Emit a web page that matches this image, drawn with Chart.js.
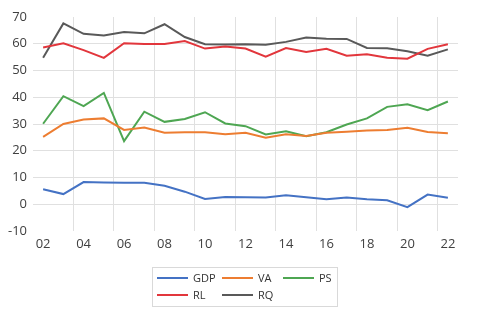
<!DOCTYPE html>
<html>
<head>
<meta charset="utf-8">
<script src="https://cdn.jsdelivr.net/npm/chart.js@4"></script>
<style>
    html, body { margin: 0; padding: 0; background: #fff; }
    #wrap { width: 480px; height: 314px; position: relative; }
</style>
</head>
<body>
<div id="wrap"><canvas id="myChart"></canvas></div>
<script>
const years = ['02', '03', '04', '05', '06', '07', '08', '09', '10', '11', '12',
    '13', '14', '15', '16', '17', '18', '19', '20', '21', '22'];
const gdp = [5.6, 3.8, 8.3, 8.1, 8.0, 8.0, 6.9, 4.7, 2.0, 2.7, 2.6,
    2.5, 3.4, 2.6, 1.9, 2.5, 1.9, 1.5, -1.1, 3.6, 2.4];
const va = [25.2, 30.0, 31.7, 32.1, 27.8, 28.7, 26.7, 26.9, 26.9, 26.2, 26.7,
    24.9, 26.2, 25.5, 26.7, 27.1, 27.6, 27.8, 28.6, 27.0, 26.5];
const ps = [30.1, 40.4, 36.7, 41.6, 23.6, 34.6, 30.8, 31.9, 34.4, 30.2, 29.2,
    26.1, 27.3, 25.4, 26.9, 29.8, 32.1, 36.4, 37.4, 35.2, 38.4];
const rl = [58.6, 60.2, 57.6, 54.7, 60.2, 59.9, 59.9, 61.0, 58.2, 59.0, 58.2,
    55.2, 58.4, 56.9, 58.1, 55.5, 56.1, 54.8, 54.4, 58.1, 59.8];
const rq = [54.8, 67.6, 63.7, 63.1, 64.4, 63.9, 67.3, 62.5, 59.8, 59.7, 59.8,
    59.6, 60.7, 62.3, 61.9, 61.8, 58.4, 58.3, 57.2, 55.5, 57.9];
const seriesNames = ['GDP', 'VA', 'PS', 'RL', 'RQ'];
const yMin = -10, yMax = 70, yStep = 10;

const colors = ['#4472C4', '#ED7D31', '#4EA652', '#E2363C', '#595959'];
const fontFamily = "'Open Sans', sans-serif";

// legend drawn by hand: 3 columns, box round it
const boxLegend = {
    id: 'boxLegend',
    afterDraw(chart) {
        const ctx = chart.ctx;
        ctx.save();
        ctx.strokeStyle = '#d9d9d9';
        ctx.lineWidth = 1;
        ctx.strokeRect(152.5, 267.5, 185, 39);
        const cols = [157, 222, 283];
        const rows = [278, 295];
        ctx.font = "11px " + fontFamily;
        ctx.textBaseline = 'middle';
        chart.data.datasets.forEach((ds, i) => {
            const x = cols[i % 3];
            const y = rows[Math.floor(i / 3)];
            ctx.strokeStyle = ds.borderColor;
            ctx.lineWidth = 2;
            ctx.beginPath();
            ctx.moveTo(x, y);
            ctx.lineTo(x + 31, y);
            ctx.stroke();
            ctx.fillStyle = '#333333';
            ctx.fillText(ds.label, x + 36, y + 0.5);
        });
        ctx.restore();
    }
};

const seriesData = [gdp, va, ps, rl, rq];
new Chart(document.getElementById('myChart'), {
    type: 'line',
    data: {
        labels: years,
        datasets: seriesData.map((d, i) => ({
            label: seriesNames[i],
            data: d,
            borderColor: colors[i],
            backgroundColor: colors[i],
            borderWidth: 2,
            pointRadius: 0,
            tension: 0
        }))
    },
    options: {
        responsive: true,
        maintainAspectRatio: false,
        animation: false,
        layout: { padding: { left: 0, right: 22, top: 17, bottom: 0 } },
        scales: {
            x: {
                type: 'category',
                offset: true,
                border: { display: false },
                grid: {
                    offset: true,
                    drawTicks: false,
                    lineWidth: 1,
                    color: c => (c.index !== undefined && c.index > 0 && c.index % 2 === 0) ? '#e0e0e0' : 'rgba(0,0,0,0)'
                },
                ticks: {
                    autoSkip: false,
                    maxRotation: 0,
                    minRotation: 0,
                    padding: 5,
                    color: '#404040',
                    font: { family: fontFamily, size: 13 },
                    callback: function (val, i) {
                        return i % 2 === 0 ? this.getLabelForValue(val) : '';
                    }
                },
                afterFit: scale => { scale.height = 83; }
            },
            y: {
                min: yMin,
                max: yMax,
                border: { display: false },
                grid: {
                    drawTicks: false,
                    color: c => (c.tick && (c.tick.value === yMin || c.tick.value === yMax)) ? 'rgba(0,0,0,0)' : '#e0e0e0'
                },
                ticks: {
                    stepSize: yStep,
                    padding: 6,
                    color: '#404040',
                    font: { family: fontFamily, size: 13 }
                },
                afterFit: scale => { scale.width = 33; }
            }
        },
        plugins: {
            legend: { display: false },
            tooltip: { enabled: false }
        }
    },
    plugins: [boxLegend]
});
</script>
</body>
</html>
